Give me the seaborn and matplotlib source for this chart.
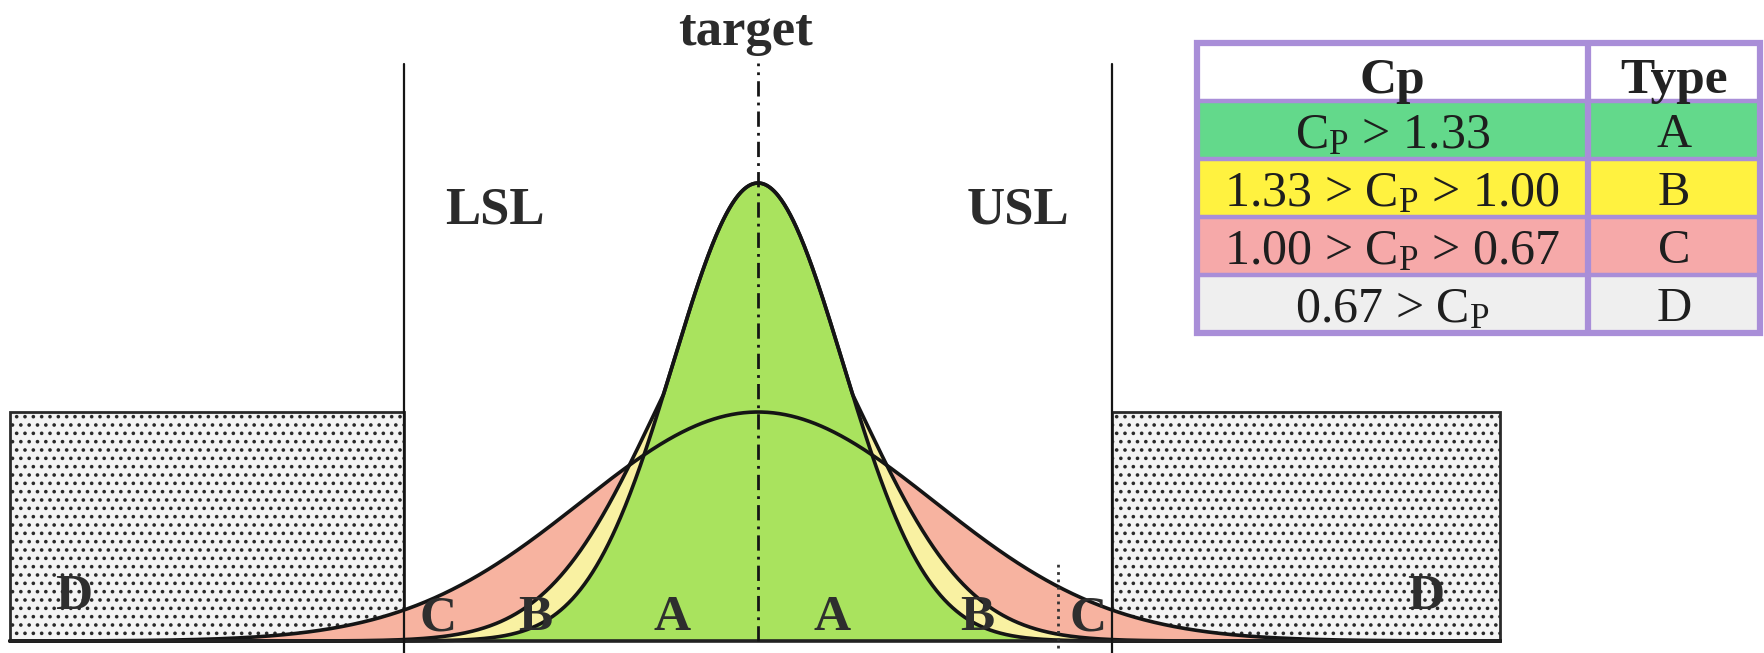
import numpy as np
import pandas as pd
import matplotlib
matplotlib.use("Agg")
import matplotlib.pyplot as plt
from matplotlib.patches import Rectangle
import seaborn as sns

# --- data ---
curve_types = ["A", "B", "C"]
curve_sigma = [0.72, 0.90, 1.50]      # spread, LSL/USL at -3/+3
curve_peak = [1.00, 0.80, 0.50]
curve_fill = ["#a9e35e", "#f9f1a2", "#f7b3a0"]

spec_limits = [-3.0, 3.0]
spec_names = ["LSL", "USL"]
target = 0.0
d_box_height = 0.50

zone_labels = ["C", "B", "A", "A", "B", "C"]
d_labels = ["D", "D"]

table_header = ["Cp", "Type"]
table_cp = [r"C$_\mathrm{P}$ > 1.33",
            r"1.33 > C$_\mathrm{P}$ > 1.00",
            r"1.00 > C$_\mathrm{P}$ > 0.67",
            r"0.67 > C$_\mathrm{P}$"]
table_type = ["A", "B", "C", "D"]
table_colors = ["#63d98b", "#fff240", "#f6a9a9", "#efefef"]

# --- layout ---
x_left, x_right = -6.424, 8.525
y_bottom, y_top = -0.0262, 1.3996
draw_left, draw_right = -6.34, 6.29
zone_label_x = [-2.71, -1.89, -0.73, 0.63, 1.86, 2.80]
d_label_x = [-5.80, 5.66]

sns.set_theme(style="white")
plt.rcParams["font.family"] = ["Liberation Serif", "DejaVu Serif"]
plt.rcParams["mathtext.fontset"] = "custom"
plt.rcParams["mathtext.rm"] = "Liberation Serif"
plt.rcParams["mathtext.it"] = "Liberation Serif:italic"
plt.rcParams["hatch.color"] = "#1a1a1a"
plt.rcParams["hatch.linewidth"] = 1.4

fig = plt.figure(figsize=(17.64, 6.53), dpi=100)
ax = fig.add_axes([0, 0, 1, 1])

x = np.linspace(draw_left, draw_right, 1500)
curves = {t: p * np.exp(-0.5 * (x / s) ** 2)
          for t, s, p in zip(curve_types, curve_sigma, curve_peak)}
line_a = curves["A"]
line_b = np.maximum(curves["A"], curves["B"])
line_c = curves["C"]

# D boxes (outside spec)
for x0, x1 in [(draw_left, spec_limits[0]), (spec_limits[1], draw_right)]:
    ax.add_patch(Rectangle((x0, 0), x1 - x0, d_box_height, facecolor="#f4f4f4",
                           edgecolor="#2a2a2a", hatch="..", lw=2, zorder=1))

# coloured areas under the curves
ax.fill_between(x, 0, np.maximum(line_b, line_c), color=curve_fill[2], lw=0, zorder=2)
ax.fill_between(x, 0, line_b, color=curve_fill[1], lw=0, zorder=2.1)
ax.fill_between(x, 0, line_a, color=curve_fill[0], lw=0, zorder=2.2)

df = pd.DataFrame({"x": np.tile(x, 3),
                   "y": np.concatenate([line_c, line_b, line_a]),
                   "curve": np.repeat(["C", "B", "A"], len(x))})
sns.lineplot(data=df, x="x", y="y", units="curve", estimator=None,
             color="#151515", lw=2.6, ax=ax, zorder=3, sort=False)

# baseline, spec limits, target
ax.plot([draw_left, draw_right], [0, 0], color="#222222", lw=2.6, zorder=4)
for xs in spec_limits:
    ax.plot([xs, xs], [y_bottom, 1.26], color="#151515", lw=1.6, zorder=4)
ax.plot([target, target], [0, 1.262], color="#151515", lw=2.0,
        dashes=(5.5, 2.2, 1, 2.2), zorder=4)
ax.plot([2.54, 2.54], [-0.015, 0.172], color="#333333", lw=2.0, ls=":", zorder=4)

ax.text(-0.11, 1.301, "target", ha="center", va="baseline", fontsize=38,
        fontweight="bold", color="#2b2b2b")
for name, xs in zip(spec_names, [-2.23, 2.20]):
    ax.text(xs, 0.939, name, ha="center", va="center", fontsize=38,
            fontweight="bold", color="#2b2b2b")
for lab, xs in zip(zone_labels, zone_label_x):
    ax.text(xs, 0.024, lab, ha="center", va="baseline", fontsize=37,
            fontweight="bold", color="#2e2e2e", zorder=5)
for lab, xs in zip(d_labels, d_label_x):
    ax.text(xs, 0.07, lab, ha="center", va="baseline", fontsize=37,
            fontweight="bold", color="#2e2e2e", zorder=5)

ax.set_xlim(x_left, x_right)
ax.set_ylim(y_bottom, y_top)
ax.axis("off")

# --- Cp / Type table ---
W, H = 1764, 653
tx0, tx1, ty0, ty1 = 1197, 1760, 43, 333
tab = fig.add_axes([tx0 / W, 1 - ty1 / H, (tx1 - tx0) / W, (ty1 - ty0) / H])
tab.set_xlim(0, 1)
tab.set_ylim(len(table_cp) + 1, 0)
tab.axis("off")
split = 0.694
border = "#a98ed8"

tab.add_patch(Rectangle((0, 0), 1, 1, facecolor="white", lw=0))
for i, c in enumerate(table_colors):
    tab.add_patch(Rectangle((0, i + 1), 1, 1, facecolor=c, lw=0))
for r in range(1, len(table_cp) + 1):
    tab.plot([0, 1], [r, r], color=border, lw=3.2)
tab.plot([split, split], [0, len(table_cp) + 1], color=border, lw=4.5)
tab.add_patch(Rectangle((0, 0), 1, len(table_cp) + 1, fill=False,
                        edgecolor=border, lw=4.5, clip_on=False))

tab.text(split / 2, 0.86, table_header[0], ha="center", va="baseline",
         fontsize=37, fontweight="bold", color="#222222")
tab.text((1 + split) / 2, 0.86, table_header[1], ha="center", va="baseline",
         fontsize=37, fontweight="bold", color="#222222")
for i, (cp, ty) in enumerate(zip(table_cp, table_type)):
    tab.text(split / 2, i + 1.82, cp, ha="center", va="baseline",
             fontsize=36, color="#1e1e1e", zorder=5)
    tab.text((1 + split) / 2, i + 1.80, ty, ha="center", va="baseline",
             fontsize=35, color="#1e1e1e", zorder=5)

fig.savefig("out.png", dpi=100)
